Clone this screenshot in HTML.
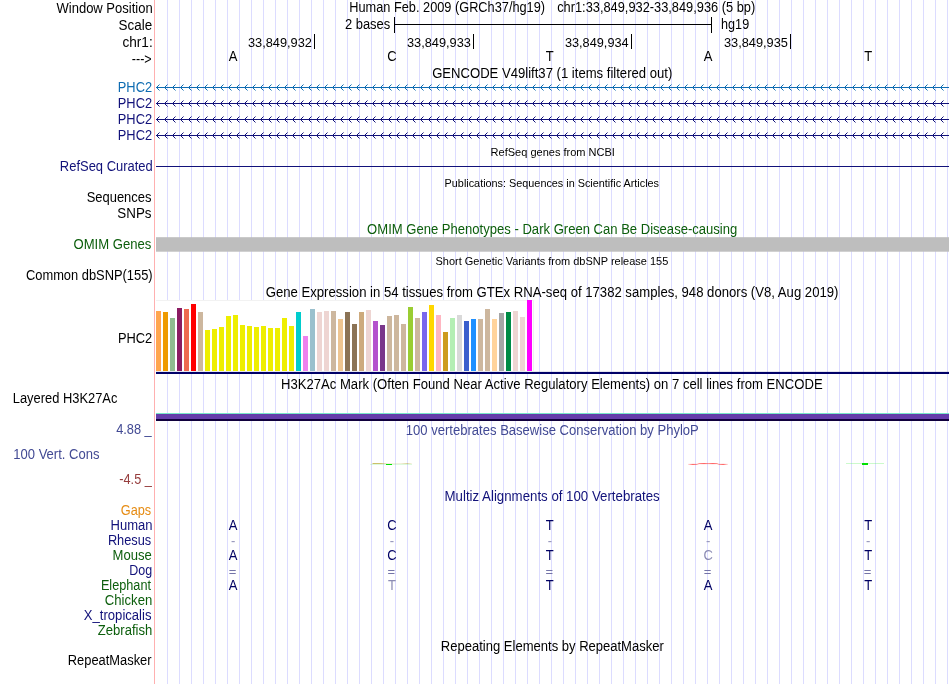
<!DOCTYPE html>
<html lang="en"><head><meta charset="utf-8"><title>UCSC Genome Browser chr1:33,849,932-33,849,936</title>
<style>
html,body{margin:0;padding:0;background:#fff;}
body{width:950px;height:684px;overflow:hidden;}
svg{display:block;font-family:"Liberation Sans", sans-serif;}
</style></head><body>
<svg width="950" height="684" viewBox="0 0 950 684">
<rect width="950" height="684" fill="#fff"/>
<path d="M167.5 0V684M179.5 0V684M191.5 0V684M203.5 0V684M215.5 0V684M227.5 0V684M239.5 0V684M251.5 0V684M263.5 0V684M275.5 0V684M287.5 0V684M299.5 0V684M311.5 0V684M323.5 0V684M335.5 0V684M347.5 0V684M359.5 0V684M371.5 0V684M383.5 0V684M395.5 0V684M407.5 0V684M419.5 0V684M431.5 0V684M443.5 0V684M455.5 0V684M467.5 0V684M479.5 0V684M491.5 0V684M503.5 0V684M515.5 0V684M527.5 0V684M539.5 0V684M551.5 0V684M563.5 0V684M575.5 0V684M587.5 0V684M599.5 0V684M611.5 0V684M623.5 0V684M635.5 0V684M647.5 0V684M659.5 0V684M671.5 0V684M683.5 0V684M695.5 0V684M707.5 0V684M719.5 0V684M731.5 0V684M743.5 0V684M755.5 0V684M767.5 0V684M779.5 0V684M791.5 0V684M803.5 0V684M815.5 0V684M827.5 0V684M839.5 0V684M851.5 0V684M863.5 0V684M875.5 0V684M887.5 0V684M899.5 0V684M911.5 0V684M923.5 0V684M935.5 0V684M947.5 0V684" stroke="#dcdcff" stroke-width="1" fill="none"/>
<rect x="154" y="0" width="1" height="684" fill="#ffb0b0"/>
<text id="l_win" x="56.49" y="12.6" font-size="14" fill="#000" textLength="96.18" lengthAdjust="spacingAndGlyphs">Window Position</text>
<text id="l_scale" x="118.54" y="29.5" font-size="14" fill="#000" textLength="33.59" lengthAdjust="spacingAndGlyphs">Scale</text>
<text id="l_chr" x="122.46" y="46.8" font-size="14" fill="#000" textLength="30.24" lengthAdjust="spacingAndGlyphs">chr1:</text>
<text id="l_arrow" x="131.82" y="63.5" font-size="14" fill="#000" textLength="19.84" lengthAdjust="spacingAndGlyphs">---&gt;</text>
<text id="l_phc0" x="117.78" y="92" font-size="14" fill="#0e6cb2" textLength="34.31" lengthAdjust="spacingAndGlyphs">PHC2</text>
<text id="l_phc1" x="117.78" y="108" font-size="14" fill="#12127a" textLength="34.31" lengthAdjust="spacingAndGlyphs">PHC2</text>
<text id="l_phc2" x="117.78" y="124" font-size="14" fill="#12127a" textLength="34.31" lengthAdjust="spacingAndGlyphs">PHC2</text>
<text id="l_phc3" x="117.78" y="140" font-size="14" fill="#12127a" textLength="34.31" lengthAdjust="spacingAndGlyphs">PHC2</text>
<text id="l_refseq" x="59.87" y="170.6" font-size="14" fill="#12127a" textLength="92.91" lengthAdjust="spacingAndGlyphs">RefSeq Curated</text>
<text id="l_seq" x="86.68" y="201.5" font-size="14" fill="#000" textLength="64.78" lengthAdjust="spacingAndGlyphs">Sequences</text>
<text id="l_snps" x="117.35" y="217.5" font-size="14" fill="#000" textLength="34.16" lengthAdjust="spacingAndGlyphs">SNPs</text>
<text id="l_omim" x="73.52" y="248.7" font-size="14" fill="#0c5e0c" textLength="77.83" lengthAdjust="spacingAndGlyphs">OMIM Genes</text>
<text id="l_dbsnp" x="25.96" y="280" font-size="14" fill="#000" textLength="126.67" lengthAdjust="spacingAndGlyphs">Common dbSNP(155)</text>
<text id="l_gtex" x="117.88" y="343" font-size="14" fill="#000" textLength="34.31" lengthAdjust="spacingAndGlyphs">PHC2</text>
<text id="l_h3k" x="12.78" y="403.2" font-size="14" fill="#000" textLength="104.61" lengthAdjust="spacingAndGlyphs">Layered H3K27Ac</text>
<text id="l_cons" x="13.27" y="459.2" font-size="14" fill="#424a94" textLength="86.21" lengthAdjust="spacingAndGlyphs">100 Vert. Cons</text>
<text id="l_488" x="116.15" y="433.7" font-size="14" fill="#424a94" textLength="35.59" lengthAdjust="spacingAndGlyphs">4.88 _</text>
<text id="l_45" x="119.31" y="484" font-size="14" fill="#963c3c" textLength="32.52" lengthAdjust="spacingAndGlyphs">-4.5 _</text>
<text id="l_gaps" x="120.78" y="514.5" font-size="14" fill="#e68c14" textLength="30.44" lengthAdjust="spacingAndGlyphs">Gaps</text>
<text id="l_sp0" x="110.57" y="529.8" font-size="14" fill="#12127a" textLength="41.99" lengthAdjust="spacingAndGlyphs">Human</text>
<text id="l_sp1" x="107.89" y="544.8" font-size="14" fill="#12127a" textLength="43.34" lengthAdjust="spacingAndGlyphs">Rhesus</text>
<text id="l_sp2" x="112.57" y="559.8" font-size="14" fill="#0c5e0c" textLength="39.25" lengthAdjust="spacingAndGlyphs">Mouse</text>
<text id="l_sp3" x="129.21" y="574.8" font-size="14" fill="#12127a" textLength="22.90" lengthAdjust="spacingAndGlyphs">Dog</text>
<text id="l_sp4" x="100.89" y="589.8" font-size="14" fill="#0c5e0c" textLength="50.10" lengthAdjust="spacingAndGlyphs">Elephant</text>
<text id="l_sp5" x="104.85" y="604.8" font-size="14" fill="#0c5e0c" textLength="47.41" lengthAdjust="spacingAndGlyphs">Chicken</text>
<text id="l_sp6" x="83.86" y="619.8" font-size="14" fill="#12127a" textLength="67.60" lengthAdjust="spacingAndGlyphs">X_tropicalis</text>
<text id="l_sp7" x="97.82" y="634.8" font-size="14" fill="#0c5e0c" textLength="54.50" lengthAdjust="spacingAndGlyphs">Zebrafish</text>
<text id="l_rmsk" x="67.78" y="664.9" font-size="14" fill="#000" textLength="83.76" lengthAdjust="spacingAndGlyphs">RepeatMasker</text>
<text id="t_pos1" x="349.29" y="12.1" font-size="14" fill="#000" textLength="195.79" lengthAdjust="spacingAndGlyphs">Human Feb. 2009 (GRCh37/hg19)</text>
<text id="t_pos2" x="557.19" y="12.1" font-size="14" fill="#000" textLength="198.00" lengthAdjust="spacingAndGlyphs">chr1:33,849,932-33,849,936 (5 bp)</text>
<text id="t_gencode" x="432.16" y="77.6" font-size="14" fill="#000" textLength="240.11" lengthAdjust="spacingAndGlyphs">GENCODE V49lift37 (1 items filtered out)</text>
<text id="t_refseq" x="490.60" y="155.9" font-size="11" fill="#000" textLength="124.33" lengthAdjust="spacingAndGlyphs">RefSeq genes from NCBI</text>
<text id="t_pubs" x="444.62" y="186.6" font-size="11" fill="#000" textLength="214.39" lengthAdjust="spacingAndGlyphs">Publications: Sequences in Scientific Articles</text>
<text id="t_omim" x="367.12" y="234.3" font-size="14" fill="#0c5e0c" textLength="370.18" lengthAdjust="spacingAndGlyphs">OMIM Gene Phenotypes - Dark Green Can Be Disease-causing</text>
<text id="t_snp" x="435.52" y="265" font-size="11" fill="#000" textLength="232.79" lengthAdjust="spacingAndGlyphs">Short Genetic Variants from dbSNP release 155</text>
<text id="t_gtex" x="265.76" y="296.8" font-size="14" fill="#000" textLength="572.66" lengthAdjust="spacingAndGlyphs">Gene Expression in 54 tissues from GTEx RNA-seq of 17382 samples, 948 donors (V8, Aug 2019)</text>
<text id="t_h3k" x="280.96" y="388.5" font-size="14" fill="#000" textLength="541.70" lengthAdjust="spacingAndGlyphs">H3K27Ac Mark (Often Found Near Active Regulatory Elements) on 7 cell lines from ENCODE</text>
<text id="t_phylop" x="405.87" y="434.8" font-size="14" fill="#424a94" textLength="292.96" lengthAdjust="spacingAndGlyphs">100 vertebrates Basewise Conservation by PhyloP</text>
<text id="t_multiz" x="444.55" y="500.8" font-size="14" fill="#12127a" textLength="215.18" lengthAdjust="spacingAndGlyphs">Multiz Alignments of 100 Vertebrates</text>
<text id="t_rmsk" x="440.87" y="650.6" font-size="14" fill="#000" textLength="222.96" lengthAdjust="spacingAndGlyphs">Repeating Elements by RepeatMasker</text>
<text id="r_2b" x="344.92" y="29.3" font-size="14" fill="#000" textLength="45.31" lengthAdjust="spacingAndGlyphs">2 bases</text>
<path d="M394.5 17V33M711.5 17V33M394 24.5H712" stroke="#000" stroke-width="1" fill="none"/>
<text id="r_hg19" x="721.10" y="29.3" font-size="14" fill="#000" textLength="28.06" lengthAdjust="spacingAndGlyphs">hg19</text>
<text id="r_n0" x="247.93" y="46.8" font-size="13.3" fill="#000" textLength="64.01" lengthAdjust="spacingAndGlyphs">33,849,932</text>
<rect x="314" y="34" width="1" height="15" fill="#000"/>
<text id="r_n1" x="406.93" y="46.8" font-size="13.3" fill="#000" textLength="64.01" lengthAdjust="spacingAndGlyphs">33,849,933</text>
<rect x="473" y="34" width="1" height="15" fill="#000"/>
<text id="r_n2" x="564.93" y="46.8" font-size="13.3" fill="#000" textLength="63.70" lengthAdjust="spacingAndGlyphs">33,849,934</text>
<rect x="631" y="34" width="1" height="15" fill="#000"/>
<text id="r_n3" x="723.93" y="46.8" font-size="13.3" fill="#000" textLength="64.01" lengthAdjust="spacingAndGlyphs">33,849,935</text>
<rect x="790" y="34" width="1" height="15" fill="#000"/>
<text transform="translate(233.2,60.5) scale(0.93,1)" text-anchor="middle" font-size="14" fill="#000">A</text>
<text transform="translate(392,60.5) scale(0.93,1)" text-anchor="middle" font-size="14" fill="#000">C</text>
<text transform="translate(549.8,60.5) scale(0.93,1)" text-anchor="middle" font-size="14" fill="#000">T</text>
<text transform="translate(708.1,60.5) scale(0.93,1)" text-anchor="middle" font-size="14" fill="#000">A</text>
<text transform="translate(868.2,60.5) scale(0.93,1)" text-anchor="middle" font-size="14" fill="#000">T</text>
<defs><pattern id="barb0" x="156" y="-3" width="8" height="7" patternUnits="userSpaceOnUse"><g transform="translate(0,3)" fill="#0e6cb2" shape-rendering="crispEdges"><path d="M1 -1h1v1h-1zM1 1h1v1h-1zM2 -2h1v1h-1zM2 2h1v1h-1z"/><path d="M3 -3h1v1h-1zM3 3h1v1h-1z" opacity="0.5"/></g></pattern></defs>
<rect x="156" y="87" width="793" height="1" fill="#0e6cb2"/>
<g transform="translate(0,87)"><rect x="156" y="-3" width="792" height="7" fill="url(#barb0)"/></g>
<defs><pattern id="barb1" x="156" y="-3" width="8" height="7" patternUnits="userSpaceOnUse"><g transform="translate(0,3)" fill="#12127a" shape-rendering="crispEdges"><path d="M1 -1h1v1h-1zM1 1h1v1h-1zM2 -2h1v1h-1zM2 2h1v1h-1z"/><path d="M3 -3h1v1h-1zM3 3h1v1h-1z" opacity="0.5"/></g></pattern></defs>
<rect x="156" y="103" width="793" height="1" fill="#12127a"/>
<g transform="translate(0,103)"><rect x="156" y="-3" width="792" height="7" fill="url(#barb1)"/></g>
<rect x="156" y="119" width="793" height="1" fill="#12127a"/>
<g transform="translate(0,119)"><rect x="156" y="-3" width="792" height="7" fill="url(#barb1)"/></g>
<rect x="156" y="135" width="793" height="1" fill="#12127a"/>
<g transform="translate(0,135)"><rect x="156" y="-3" width="792" height="7" fill="url(#barb1)"/></g>
<rect x="156" y="166" width="793" height="1" fill="#12127a"/>
<rect x="156" y="237.2" width="793" height="14.5" fill="#bebebe"/>
<rect x="156" y="300" width="378" height="72" fill="#fff"/>
<rect x="156" y="300" width="378" height="1" fill="#f2f2f2"/>
<rect x="156" y="311" width="5" height="60" fill="#FFA54F"/>
<rect x="163" y="312" width="5" height="59" fill="#EE9A00"/>
<rect x="170" y="318" width="5" height="53" fill="#8FBC8F"/>
<rect x="177" y="308" width="5" height="63" fill="#8B1C62"/>
<rect x="184" y="309" width="5" height="62" fill="#EE6A50"/>
<rect x="191" y="304" width="5" height="67" fill="#FF0000"/>
<rect x="198" y="312" width="5" height="59" fill="#CDB79E"/>
<rect x="205" y="330" width="5" height="41" fill="#EEEE00"/>
<rect x="212" y="329" width="5" height="42" fill="#EEEE00"/>
<rect x="219" y="327" width="5" height="44" fill="#EEEE00"/>
<rect x="226" y="316" width="5" height="55" fill="#EEEE00"/>
<rect x="233" y="315" width="5" height="56" fill="#EEEE00"/>
<rect x="240" y="325" width="5" height="46" fill="#EEEE00"/>
<rect x="247" y="326" width="5" height="45" fill="#EEEE00"/>
<rect x="254" y="327" width="5" height="44" fill="#EEEE00"/>
<rect x="261" y="326" width="5" height="45" fill="#EEEE00"/>
<rect x="268" y="328" width="5" height="43" fill="#EEEE00"/>
<rect x="275" y="328" width="5" height="43" fill="#EEEE00"/>
<rect x="282" y="318" width="5" height="53" fill="#EEEE00"/>
<rect x="289" y="326" width="5" height="45" fill="#EEEE00"/>
<rect x="296" y="312" width="5" height="59" fill="#00CDCD"/>
<rect x="303" y="336" width="5" height="35" fill="#EE82EE"/>
<rect x="310" y="309" width="5" height="62" fill="#9AC0CD"/>
<rect x="317" y="312" width="5" height="59" fill="#EED5D2"/>
<rect x="324" y="311" width="5" height="60" fill="#EED5D2"/>
<rect x="331" y="311" width="5" height="60" fill="#CDB79E"/>
<rect x="338" y="319" width="5" height="52" fill="#EEC591"/>
<rect x="345" y="312" width="5" height="59" fill="#8B7355"/>
<rect x="352" y="324" width="5" height="47" fill="#8B7355"/>
<rect x="359" y="312" width="5" height="59" fill="#CDAA7D"/>
<rect x="366" y="310" width="5" height="61" fill="#EED5D2"/>
<rect x="373" y="321" width="5" height="50" fill="#B452CD"/>
<rect x="380" y="325" width="5" height="46" fill="#7A378B"/>
<rect x="387" y="316" width="5" height="55" fill="#CDB79E"/>
<rect x="394" y="315" width="5" height="56" fill="#CDB79E"/>
<rect x="401" y="324" width="5" height="47" fill="#CDB79E"/>
<rect x="408" y="307" width="5" height="64" fill="#9ACD32"/>
<rect x="415" y="318" width="5" height="53" fill="#CDB79E"/>
<rect x="422" y="312" width="5" height="59" fill="#7A67EE"/>
<rect x="429" y="305" width="5" height="66" fill="#FFD700"/>
<rect x="436" y="315" width="5" height="56" fill="#FFB6C1"/>
<rect x="443" y="332" width="5" height="39" fill="#CD9B1D"/>
<rect x="450" y="318" width="5" height="53" fill="#B4EEB4"/>
<rect x="457" y="315" width="5" height="56" fill="#D9D9D9"/>
<rect x="464" y="321" width="5" height="50" fill="#3A5FCD"/>
<rect x="471" y="319" width="5" height="52" fill="#1E90FF"/>
<rect x="478" y="319" width="5" height="52" fill="#CDB79E"/>
<rect x="485" y="309" width="5" height="62" fill="#CDB79E"/>
<rect x="492" y="319" width="5" height="52" fill="#FFD39B"/>
<rect x="499" y="313" width="5" height="58" fill="#A6A6A6"/>
<rect x="506" y="312" width="5" height="59" fill="#008B45"/>
<rect x="513" y="311" width="5" height="60" fill="#EED5D2"/>
<rect x="520" y="317" width="5" height="54" fill="#EED5D2"/>
<rect x="527" y="300" width="5" height="71" fill="#FF00FF"/>
<rect x="533" y="300" width="1" height="71" fill="#efefef"/>
<rect x="156" y="371.9" width="793" height="2.1" fill="#000068"/>
<rect x="156" y="413" width="793" height="1" fill="#78e6c8"/>
<rect x="156" y="414" width="793" height="5" fill="#643caa"/>
<rect x="156" y="419" width="793" height="2" fill="#10003c"/>
<defs><linearGradient id="gol" x1="0" x2="1" y1="0" y2="0"><stop offset="0" stop-color="#b0a01c" stop-opacity="0.75"/><stop offset="0.22" stop-color="#b0a01c" stop-opacity="0.7"/><stop offset="0.38" stop-color="#b4aa3c" stop-opacity="0.18"/><stop offset="0.72" stop-color="#b4aa3c" stop-opacity="0.2"/><stop offset="0.88" stop-color="#b0a01c" stop-opacity="0.5"/><stop offset="1" stop-color="#b0a01c" stop-opacity="0.1"/></linearGradient></defs>
<rect x="372.5" y="463" width="39.5" height="0.9" fill="url(#gol)"/>
<rect x="370" y="464" width="42" height="0.8" fill="#40e040" opacity="0.22"/>
<rect x="386" y="464" width="6" height="1" fill="#00e000"/>
<defs><linearGradient id="grd" gradientUnits="userSpaceOnUse" x1="688" x2="728" y1="0" y2="0"><stop offset="0" stop-color="#ff1010" stop-opacity="0.15"/><stop offset="0.12" stop-color="#ff1010" stop-opacity="0.9"/><stop offset="0.24" stop-color="#ff1010" stop-opacity="0.55"/><stop offset="0.4" stop-color="#ff1010" stop-opacity="0.9"/><stop offset="0.5" stop-color="#ff1010" stop-opacity="0.6"/><stop offset="0.62" stop-color="#ff1010" stop-opacity="0.9"/><stop offset="0.76" stop-color="#ff1010" stop-opacity="0.55"/><stop offset="0.88" stop-color="#ff1010" stop-opacity="0.9"/><stop offset="1" stop-color="#ff1010" stop-opacity="0.15"/></linearGradient></defs>
<path d="M688 464.4H697L699 463.6H717L719 464.4H728" stroke="url(#grd)" stroke-width="0.8" fill="none"/>
<rect x="846" y="463" width="38" height="1" fill="#60f060" opacity="0.32"/>
<rect x="862" y="463" width="6" height="2" fill="#00e000"/>
<text transform="translate(233.2,530) scale(0.93,1)" text-anchor="middle" font-size="14" fill="#000064">A</text>
<text transform="translate(392,530) scale(0.93,1)" text-anchor="middle" font-size="14" fill="#000064">C</text>
<text transform="translate(549.8,530) scale(0.93,1)" text-anchor="middle" font-size="14" fill="#000064">T</text>
<text transform="translate(708.1,530) scale(0.93,1)" text-anchor="middle" font-size="14" fill="#000064">A</text>
<text transform="translate(868.2,530) scale(0.93,1)" text-anchor="middle" font-size="14" fill="#000064">T</text>
<text transform="translate(233.2,546) scale(0.93,1)" text-anchor="middle" font-size="14" fill="#9a9abe">-</text>
<text transform="translate(392,546) scale(0.93,1)" text-anchor="middle" font-size="14" fill="#9a9abe">-</text>
<text transform="translate(549.8,546) scale(0.93,1)" text-anchor="middle" font-size="14" fill="#9a9abe">-</text>
<text transform="translate(708.1,546) scale(0.93,1)" text-anchor="middle" font-size="14" fill="#9a9abe">-</text>
<text transform="translate(868.2,546) scale(0.93,1)" text-anchor="middle" font-size="14" fill="#9a9abe">-</text>
<text transform="translate(233.2,560) scale(0.93,1)" text-anchor="middle" font-size="14" fill="#000064">A</text>
<text transform="translate(392,560) scale(0.93,1)" text-anchor="middle" font-size="14" fill="#000064">C</text>
<text transform="translate(549.8,560) scale(0.93,1)" text-anchor="middle" font-size="14" fill="#000064">T</text>
<text transform="translate(708.1,560) scale(0.93,1)" text-anchor="middle" font-size="14" fill="#8c8cb4">C</text>
<text transform="translate(868.2,560) scale(0.93,1)" text-anchor="middle" font-size="14" fill="#000064">T</text>
<text transform="translate(232.6,576) scale(1,1)" text-anchor="middle" font-size="13" fill="#7474a8">=</text>
<text transform="translate(391.4,576) scale(1,1)" text-anchor="middle" font-size="13" fill="#7474a8">=</text>
<text transform="translate(549.1999999999999,576) scale(1,1)" text-anchor="middle" font-size="13" fill="#7474a8">=</text>
<text transform="translate(707.5,576) scale(1,1)" text-anchor="middle" font-size="13" fill="#7474a8">=</text>
<text transform="translate(867.6,576) scale(1,1)" text-anchor="middle" font-size="13" fill="#7474a8">=</text>
<text transform="translate(233.2,590) scale(0.93,1)" text-anchor="middle" font-size="14" fill="#000064">A</text>
<text transform="translate(392,590) scale(0.93,1)" text-anchor="middle" font-size="14" fill="#8c8cb4">T</text>
<text transform="translate(549.8,590) scale(0.93,1)" text-anchor="middle" font-size="14" fill="#000064">T</text>
<text transform="translate(708.1,590) scale(0.93,1)" text-anchor="middle" font-size="14" fill="#000064">A</text>
<text transform="translate(868.2,590) scale(0.93,1)" text-anchor="middle" font-size="14" fill="#000064">T</text>
</svg>
</body></html>
